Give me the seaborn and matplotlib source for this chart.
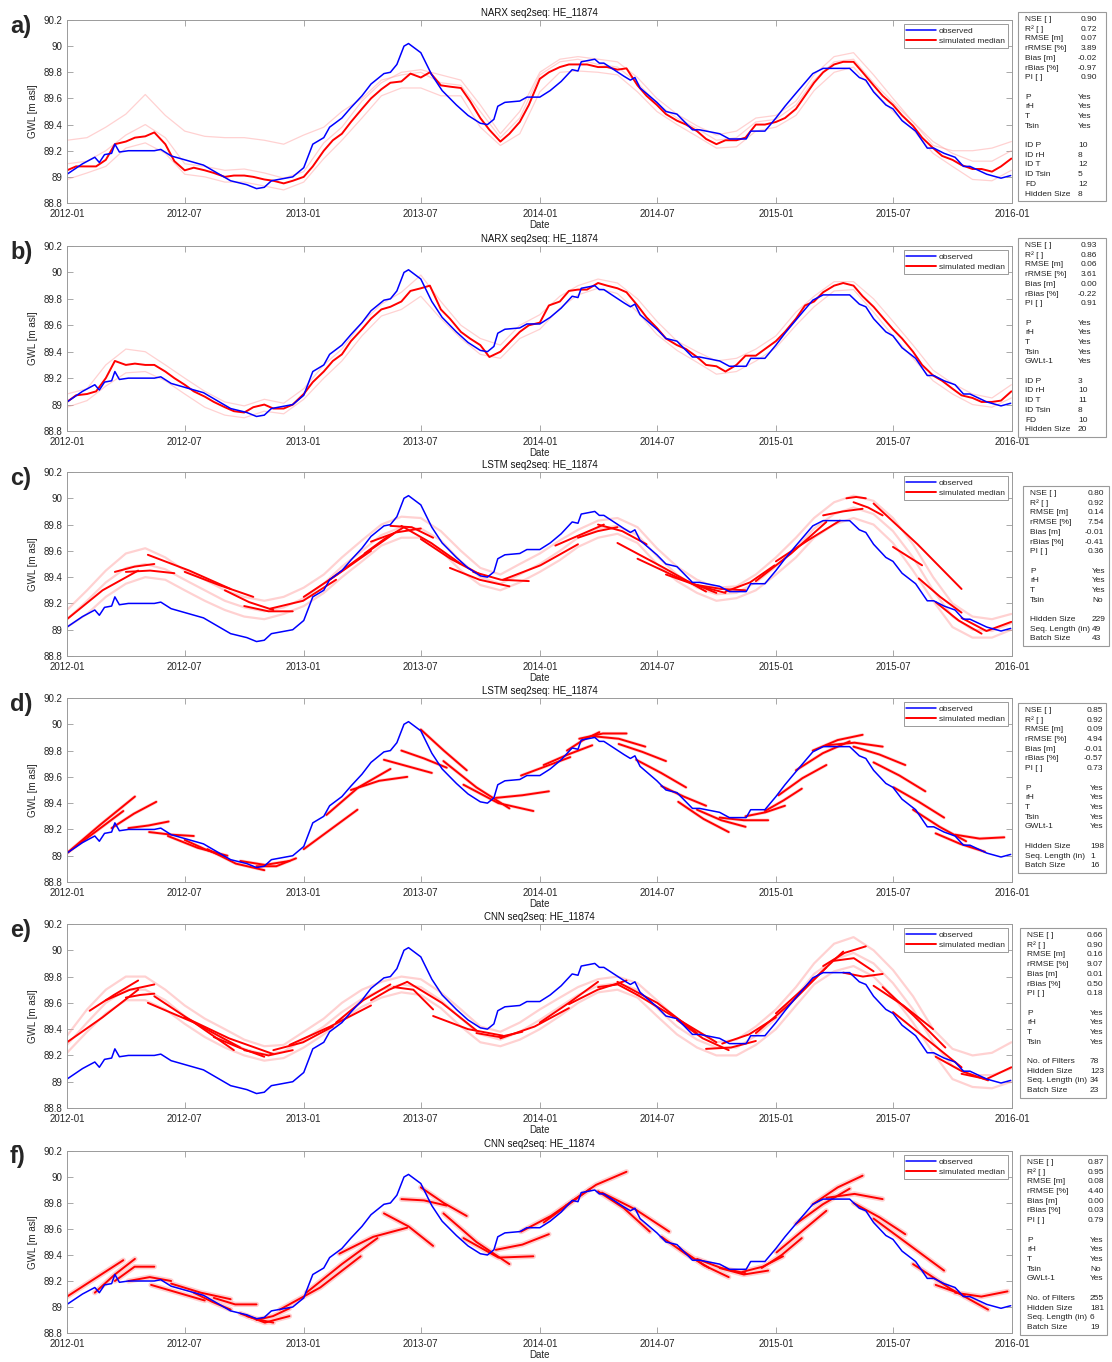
import pandas as pd
import numpy as np
import matplotlib
matplotlib.use("Agg")
import matplotlib.pyplot as plt
import matplotlib.dates as mdates
from matplotlib.lines import Line2D
from matplotlib.patches import Rectangle
import seaborn as sns

sns.set_style("ticks")
plt.rcParams['font.family'] = ['Liberation Sans', 'DejaVu Sans']

W, H = 1112, 1362

# ---------------- observed GWL (same well in every panel) ----------------
obs_dates = ["2012-01-01", "2012-01-25", "2012-02-13", "2012-02-20", "2012-02-28", "2012-03-10",
             "2012-03-15", "2012-03-22", "2012-04-05", "2012-05-15", "2012-05-25", "2012-06-10",
             "2012-07-30", "2012-08-20", "2012-09-10", "2012-10-05", "2012-10-20", "2012-11-01",
             "2012-11-12", "2012-12-15", "2013-01-01", "2013-01-15", "2013-02-01", "2013-02-10",
             "2013-03-01", "2013-03-15", "2013-04-01", "2013-04-15", "2013-05-05", "2013-05-15",
             "2013-05-25", "2013-06-05", "2013-06-12", "2013-07-01", "2013-07-18", "2013-08-03",
             "2013-08-25", "2013-09-12", "2013-10-01", "2013-10-12", "2013-10-22", "2013-10-28",
             "2013-11-08", "2013-12-01", "2013-12-12", "2014-01-01", "2014-01-17", "2014-02-03",
             "2014-02-20", "2014-03-01", "2014-03-06", "2014-03-27", "2014-04-03", "2014-04-10",
             "2014-05-11", "2014-05-21", "2014-05-28", "2014-06-05", "2014-07-01", "2014-07-15",
             "2014-08-01", "2014-08-25", "2014-09-05", "2014-10-06", "2014-10-21", "2014-11-16",
             "2014-11-23", "2014-12-15", "2015-01-01", "2015-01-15", "2015-02-01", "2015-02-27",
             "2015-03-15", "2015-04-25", "2015-05-10", "2015-05-20", "2015-06-01", "2015-06-20",
             "2015-07-01", "2015-07-15", "2015-08-05", "2015-08-23", "2015-09-02", "2015-09-18",
             "2015-10-05", "2015-10-18", "2015-10-28", "2015-11-23", "2015-12-15", "2015-12-30"]
obs_gwl = [89.02, 89.10, 89.15, 89.11, 89.17, 89.18, 89.25, 89.19, 89.20, 89.20, 89.21, 89.16,
           89.09, 89.03, 88.97, 88.94, 88.91, 88.92, 88.97, 89.00, 89.07, 89.25, 89.30, 89.38,
           89.45, 89.53, 89.62, 89.71, 89.79, 89.80, 89.86, 90.00, 90.02, 89.95, 89.78, 89.66,
           89.55, 89.47, 89.41, 89.40, 89.44, 89.54, 89.57, 89.58, 89.61, 89.61, 89.66, 89.73,
           89.82, 89.81, 89.88, 89.90, 89.87, 89.87, 89.77, 89.74, 89.76, 89.68, 89.57, 89.50,
           89.48, 89.36, 89.36, 89.33, 89.29, 89.29, 89.35, 89.35, 89.45, 89.54, 89.64, 89.79,
           89.83, 89.83, 89.76, 89.74, 89.65, 89.55, 89.52, 89.43, 89.35, 89.22, 89.22, 89.18,
           89.15, 89.08, 89.08, 89.02, 88.99, 89.01]

# date grids of the simulated series (1st/15th of month, and 1st of month)
half_month = [f"{y}-{m:02d}-{d:02d}" for y in range(2012, 2016) for m in range(1, 13) for d in (1, 15)] + ["2015-12-31"]
month = [f"{y}-{m:02d}-01" for y in range(2012, 2016) for m in range(1, 13)] + ["2015-12-31"]

# ---------------- NARX (panels a, b): medians on half-month grid ----------------
med_a = [89.05, 89.08, 89.08, 89.08, 89.13, 89.25, 89.27, 89.30, 89.31, 89.34, 89.25, 89.12,
         89.05, 89.07, 89.05, 89.03, 89.00, 89.01, 89.01, 89.00, 88.98, 88.97, 88.95, 88.97,
         89.00, 89.08, 89.20, 89.28, 89.33, 89.42, 89.52, 89.60, 89.67, 89.72, 89.73, 89.79,
         89.76, 89.80, 89.70, 89.69, 89.68, 89.58, 89.45, 89.36, 89.27, 89.33, 89.42, 89.55,
         89.75, 89.80, 89.84, 89.86, 89.86, 89.86, 89.84, 89.84, 89.82, 89.83, 89.70, 89.62,
         89.55, 89.48, 89.43, 89.40, 89.35, 89.29, 89.25, 89.28, 89.28, 89.30, 89.40, 89.40,
         89.42, 89.45, 89.52, 89.62, 89.72, 89.80, 89.86, 89.88, 89.88, 89.80, 89.70, 89.62,
         89.55, 89.47, 89.39, 89.30, 89.22, 89.16, 89.13, 89.09, 89.06, 89.06, 89.04, 89.08, 89.14]
med_b = [89.02, 89.07, 89.08, 89.10, 89.20, 89.33, 89.30, 89.31, 89.30, 89.30, 89.25, 89.20,
         89.15, 89.10, 89.06, 89.02, 88.98, 88.95, 88.94, 88.98, 89.00, 88.97, 88.97, 89.00,
         89.08, 89.17, 89.25, 89.33, 89.38, 89.48, 89.57, 89.65, 89.72, 89.74, 89.78, 89.86,
         89.88, 89.90, 89.72, 89.65, 89.55, 89.50, 89.45, 89.36, 89.40, 89.47, 89.55, 89.60,
         89.62, 89.75, 89.78, 89.86, 89.87, 89.87, 89.92, 89.90, 89.88, 89.85, 89.75, 89.66,
         89.58, 89.50, 89.45, 89.42, 89.36, 89.30, 89.29, 89.25, 89.30, 89.37, 89.37, 89.42,
         89.48, 89.55, 89.65, 89.75, 89.78, 89.85, 89.90, 89.92, 89.90, 89.82, 89.74, 89.66,
         89.57, 89.50, 89.40, 89.30, 89.22, 89.18, 89.12, 89.07, 89.05, 89.02, 89.02, 89.03, 89.10]

# ensemble members (monthly grid)
ens_a = [
    [89.10, 89.12, 89.20, 89.32, 89.40, 89.30, 89.10, 89.08, 89.05, 89.06, 89.03, 88.99,
     89.04, 89.26, 89.38, 89.58, 89.72, 89.80, 89.82, 89.78, 89.74, 89.55, 89.33, 89.50,
     89.80, 89.90, 89.92, 89.90, 89.88, 89.76, 89.60, 89.48, 89.39, 89.32, 89.35, 89.45,
     89.47, 89.58, 89.78, 89.92, 89.95, 89.78, 89.60, 89.42, 89.27, 89.18, 89.12, 89.12, 89.20],
    [88.98, 89.03, 89.08, 89.22, 89.26, 89.18, 89.02, 89.00, 88.96, 88.96, 88.93, 88.90,
     88.96, 89.14, 89.28, 89.45, 89.62, 89.68, 89.68, 89.62, 89.62, 89.38, 89.24, 89.33,
     89.65, 89.80, 89.81, 89.80, 89.78, 89.65, 89.50, 89.40, 89.31, 89.22, 89.23, 89.35,
     89.38, 89.47, 89.66, 89.80, 89.84, 89.66, 89.50, 89.36, 89.18, 89.08, 88.98, 88.97, 89.05],
    [89.28, 89.30, 89.38, 89.48, 89.63, 89.47, 89.35, 89.31, 89.30, 89.30, 89.28, 89.25,
     89.32, 89.38, 89.50, 89.60, 89.74, 89.78, 89.80, 89.72, 89.70, 89.50, 89.30, 89.45,
     89.78, 89.88, 89.90, 89.86, 89.84, 89.72, 89.56, 89.45, 89.37, 89.28, 89.30, 89.42,
     89.44, 89.55, 89.74, 89.88, 89.90, 89.72, 89.57, 89.42, 89.24, 89.20, 89.20, 89.22, 89.27],
]
ens_b = [
    [89.08, 89.12, 89.30, 89.42, 89.40, 89.30, 89.20, 89.10, 89.02, 88.99, 89.04, 89.01,
     89.12, 89.30, 89.42, 89.62, 89.76, 89.85, 89.98, 89.78, 89.60, 89.50, 89.45, 89.60,
     89.68, 89.82, 89.90, 89.95, 89.92, 89.80, 89.63, 89.48, 89.40, 89.33, 89.35, 89.42,
     89.52, 89.70, 89.82, 89.93, 89.93, 89.80, 89.63, 89.45, 89.26, 89.16, 89.08, 89.05, 89.15],
    [88.98, 89.03, 89.14, 89.24, 89.25, 89.18, 89.08, 88.98, 88.92, 88.90, 88.95, 88.93,
     89.04, 89.20, 89.33, 89.52, 89.67, 89.72, 89.82, 89.65, 89.50, 89.38, 89.35, 89.50,
     89.57, 89.73, 89.83, 89.88, 89.84, 89.70, 89.53, 89.41, 89.32, 89.23, 89.25, 89.33,
     89.43, 89.60, 89.74, 89.86, 89.87, 89.70, 89.52, 89.35, 89.18, 89.08, 89.00, 88.98, 89.05],
]
ens_c = [
    [89.15, 89.30, 89.45, 89.58, 89.62, 89.55, 89.45, 89.38, 89.30, 89.25, 89.22, 89.25,
     89.32, 89.42, 89.55, 89.68, 89.80, 89.86, 89.85, 89.75, 89.60, 89.47, 89.42, 89.50,
     89.58, 89.68, 89.76, 89.83, 89.85, 89.78, 89.62, 89.48, 89.38, 89.32, 89.33, 89.42,
     89.55, 89.70, 89.85, 89.97, 90.02, 89.98, 89.85, 89.65, 89.40, 89.20, 89.10, 89.08, 89.12],
    [89.08, 89.22, 89.36, 89.47, 89.50, 89.46, 89.38, 89.30, 89.22, 89.17, 89.14, 89.17,
     89.24, 89.35, 89.48, 89.60, 89.72, 89.78, 89.77, 89.68, 89.52, 89.40, 89.35, 89.42,
     89.50, 89.60, 89.70, 89.77, 89.79, 89.72, 89.56, 89.42, 89.32, 89.27, 89.28, 89.36,
     89.48, 89.62, 89.77, 89.88, 89.93, 89.88, 89.75, 89.55, 89.30, 89.10, 89.00, 88.99, 89.05],
    [89.02, 89.12, 89.25, 89.35, 89.40, 89.38, 89.30, 89.22, 89.15, 89.10, 89.08, 89.12,
     89.18, 89.28, 89.40, 89.52, 89.64, 89.70, 89.70, 89.60, 89.45, 89.34, 89.30, 89.36,
     89.44, 89.53, 89.63, 89.70, 89.73, 89.66, 89.50, 89.37, 89.28, 89.22, 89.24, 89.30,
     89.42, 89.55, 89.70, 89.80, 89.85, 89.80, 89.66, 89.45, 89.22, 89.02, 88.94, 88.94, 89.00],
]
ens_e = [
    [89.35, 89.55, 89.70, 89.80, 89.80, 89.70, 89.58, 89.48, 89.40, 89.32, 89.27, 89.28,
     89.38, 89.48, 89.60, 89.70, 89.76, 89.80, 89.78, 89.68, 89.55, 89.42, 89.38, 89.45,
     89.55, 89.64, 89.72, 89.78, 89.80, 89.75, 89.62, 89.48, 89.38, 89.30, 89.32, 89.42,
     89.55, 89.72, 89.90, 90.05, 90.10, 90.00, 89.85, 89.65, 89.40, 89.25, 89.20, 89.22, 89.30],
    [89.28, 89.45, 89.60, 89.70, 89.70, 89.62, 89.50, 89.40, 89.32, 89.25, 89.21, 89.23,
     89.32, 89.42, 89.53, 89.63, 89.70, 89.74, 89.72, 89.62, 89.48, 89.36, 89.32, 89.38,
     89.47, 89.57, 89.66, 89.73, 89.75, 89.70, 89.56, 89.42, 89.32, 89.26, 89.26, 89.35,
     89.48, 89.65, 89.82, 89.93, 89.98, 89.90, 89.75, 89.55, 89.30, 89.12, 89.05, 89.05, 89.10],
    [89.22, 89.38, 89.52, 89.62, 89.62, 89.55, 89.44, 89.34, 89.26, 89.20, 89.16, 89.18,
     89.26, 89.36, 89.47, 89.57, 89.64, 89.68, 89.66, 89.56, 89.42, 89.30, 89.27, 89.32,
     89.40, 89.50, 89.60, 89.68, 89.70, 89.64, 89.50, 89.36, 89.26, 89.20, 89.20, 89.28,
     89.40, 89.58, 89.74, 89.84, 89.88, 89.80, 89.65, 89.45, 89.22, 89.02, 88.96, 88.95, 89.00],
]

# ---------------- seq2seq forecast pieces: (start, end, v_start, v_mid, v_end) ----------------
segs_c = [
    ("2012-01-01", "2012-04-20", 89.08, 89.30, 89.45), ("2012-03-15", "2012-05-15", 89.44, 89.48, 89.50),
    ("2012-04-01", "2012-06-15", 89.44, 89.45, 89.43), ("2012-05-05", "2012-09-10", 89.57, 89.45, 89.31),
    ("2012-07-01", "2012-10-15", 89.44, 89.34, 89.25), ("2012-09-01", "2012-11-15", 89.30, 89.21, 89.15),
    ("2012-10-01", "2012-12-15", 89.18, 89.14, 89.14), ("2012-11-10", "2013-02-20", 89.16, 89.22, 89.38),
    ("2013-01-01", "2013-04-15", 89.25, 89.42, 89.60), ("2013-02-10", "2013-05-20", 89.38, 89.56, 89.73),
    ("2013-04-05", "2013-06-05", 89.58, 89.69, 89.78), ("2013-04-15", "2013-07-01", 89.67, 89.74, 89.77),
    ("2013-05-15", "2013-07-20", 89.79, 89.78, 89.70), ("2013-06-01", "2013-09-01", 89.79, 89.66, 89.50),
    ("2013-07-01", "2013-10-01", 89.69, 89.54, 89.42), ("2013-08-15", "2013-11-15", 89.47, 89.38, 89.33),
    ("2013-09-20", "2013-12-15", 89.44, 89.38, 89.37), ("2013-11-05", "2014-03-01", 89.38, 89.49, 89.65),
    ("2014-01-25", "2014-04-10", 89.64, 89.72, 89.80), ("2014-03-01", "2014-05-01", 89.70, 89.75, 89.78),
    ("2014-04-01", "2014-06-15", 89.80, 89.75, 89.65), ("2014-05-01", "2014-09-15", 89.66, 89.48, 89.29),
    ("2014-06-01", "2014-10-01", 89.54, 89.40, 89.28), ("2014-07-15", "2014-10-15", 89.42, 89.34, 89.28),
    ("2014-09-01", "2014-11-15", 89.34, 89.31, 89.30), ("2014-10-15", "2014-12-30", 89.29, 89.36, 89.49),
    ("2014-12-01", "2015-03-20", 89.37, 89.58, 89.82), ("2015-01-01", "2015-04-10", 89.52, 89.68, 89.83),
    ("2015-03-15", "2015-05-15", 89.87, 89.90, 89.92), ("2015-04-20", "2015-05-20", 90.00, 90.01, 90.00),
    ("2015-05-01", "2015-06-15", 89.97, 89.93, 89.87), ("2015-06-01", "2015-10-15", 89.96, 89.65, 89.31),
    ("2015-07-01", "2015-08-15", 89.63, 89.56, 89.49), ("2015-08-10", "2015-10-15", 89.39, 89.25, 89.13),
    ("2015-09-05", "2015-11-15", 89.21, 89.07, 88.97), ("2015-10-15", "2015-12-31", 89.09, 88.99, 89.06),
]
segs_d = [
    ("2012-01-01", "2012-03-28", 89.02, 89.18, 89.34), ("2012-01-01", "2012-04-15", 89.02, 89.24, 89.45),
    ("2012-03-10", "2012-05-18", 89.21, 89.32, 89.41), ("2012-04-05", "2012-06-06", 89.21, 89.23, 89.26),
    ("2012-05-07", "2012-07-15", 89.18, 89.16, 89.15), ("2012-06-05", "2012-09-05", 89.15, 89.06, 89.00),
    ("2012-07-01", "2012-09-01", 89.12, 89.05, 88.99), ("2012-08-05", "2012-11-01", 89.05, 88.94, 88.89),
    ("2012-09-25", "2012-12-10", 88.96, 88.93, 88.96), ("2012-10-20", "2012-12-20", 88.92, 88.92, 88.98),
    ("2013-01-01", "2013-03-25", 89.05, 89.20, 89.35), ("2013-02-05", "2013-05-15", 89.31, 89.52, 89.66),
    ("2013-03-15", "2013-06-10", 89.50, 89.57, 89.60), ("2013-05-05", "2013-07-18", 89.73, 89.68, 89.63),
    ("2013-06-01", "2013-08-10", 89.80, 89.74, 89.67), ("2013-07-01", "2013-09-10", 89.96, 89.80, 89.65),
    ("2013-08-05", "2013-11-15", 89.72, 89.52, 89.36), ("2013-09-05", "2013-12-22", 89.54, 89.40, 89.34),
    ("2013-10-25", "2014-01-15", 89.44, 89.46, 89.49), ("2013-12-03", "2014-02-17", 89.61, 89.68, 89.75),
    ("2014-01-07", "2014-03-23", 89.69, 89.77, 89.84), ("2014-02-12", "2014-04-03", 89.80, 89.88, 89.94),
    ("2014-03-03", "2014-05-15", 89.89, 89.93, 89.93), ("2014-03-23", "2014-06-13", 89.91, 89.89, 89.83),
    ("2014-05-03", "2014-07-15", 89.85, 89.79, 89.72), ("2014-05-30", "2014-08-15", 89.73, 89.63, 89.52),
    ("2014-07-08", "2014-09-15", 89.53, 89.45, 89.38), ("2014-08-03", "2014-10-20", 89.41, 89.28, 89.18),
    ("2014-09-01", "2014-11-15", 89.35, 89.27, 89.22), ("2014-10-06", "2014-12-20", 89.29, 89.27, 89.27),
    ("2014-11-15", "2015-01-15", 89.30, 89.33, 89.38), ("2014-12-15", "2015-02-10", 89.34, 89.42, 89.51),
    ("2015-01-05", "2015-03-20", 89.46, 89.59, 89.69), ("2015-02-01", "2015-04-25", 89.65, 89.78, 89.87),
    ("2015-02-27", "2015-05-15", 89.80, 89.88, 89.92), ("2015-03-20", "2015-06-15", 89.84, 89.86, 89.83),
    ("2015-05-01", "2015-07-20", 89.83, 89.77, 89.69), ("2015-06-01", "2015-08-20", 89.71, 89.61, 89.49),
    ("2015-07-02", "2015-09-18", 89.52, 89.41, 89.29), ("2015-08-01", "2015-10-22", 89.35, 89.22, 89.11),
    ("2015-09-05", "2015-11-20", 89.17, 89.09, 89.03), ("2015-10-05", "2015-12-20", 89.16, 89.13, 89.14),
]
segs_e = [
    ("2012-01-01", "2012-04-20", 89.30, 89.49, 89.70), ("2012-02-05", "2012-04-20", 89.54, 89.66, 89.77),
    ("2012-03-01", "2012-05-15", 89.62, 89.70, 89.74), ("2012-04-01", "2012-05-15", 89.64, 89.66, 89.67),
    ("2012-05-05", "2012-09-25", 89.60, 89.45, 89.26), ("2012-05-15", "2012-09-15", 89.65, 89.45, 89.24),
    ("2012-07-01", "2012-11-15", 89.49, 89.33, 89.21), ("2012-08-15", "2012-11-01", 89.34, 89.26, 89.19),
    ("2012-10-01", "2012-12-15", 89.24, 89.20, 89.24), ("2012-11-15", "2013-02-15", 89.24, 89.30, 89.42),
    ("2012-12-10", "2013-04-15", 89.28, 89.42, 89.58), ("2013-02-20", "2013-05-15", 89.45, 89.62, 89.74),
    ("2013-04-15", "2013-06-10", 89.62, 89.70, 89.76), ("2013-05-20", "2013-07-20", 89.72, 89.70, 89.55),
    ("2013-06-10", "2013-09-25", 89.76, 89.60, 89.39), ("2013-07-20", "2013-11-05", 89.50, 89.40, 89.35),
    ("2013-09-25", "2013-12-05", 89.37, 89.34, 89.38), ("2013-11-01", "2014-02-15", 89.33, 89.42, 89.56),
    ("2014-01-01", "2014-04-01", 89.45, 89.60, 89.76), ("2014-02-15", "2014-05-15", 89.59, 89.70, 89.77),
    ("2014-04-01", "2014-06-01", 89.72, 89.74, 89.66), ("2014-05-01", "2014-09-01", 89.76, 89.60, 89.37),
    ("2014-06-01", "2014-10-01", 89.66, 89.48, 89.30), ("2014-08-01", "2014-10-20", 89.47, 89.33, 89.24),
    ("2014-09-15", "2014-12-01", 89.25, 89.26, 89.31), ("2014-10-10", "2015-01-01", 89.29, 89.36, 89.49),
    ("2014-12-01", "2015-03-20", 89.37, 89.60, 89.87), ("2015-01-01", "2015-04-15", 89.52, 89.75, 89.99),
    ("2015-03-15", "2015-05-20", 89.88, 89.98, 90.03), ("2015-04-01", "2015-06-01", 89.92, 89.94, 89.84),
    ("2015-04-15", "2015-06-15", 89.83, 89.80, 89.82), ("2015-06-01", "2015-09-01", 89.73, 89.58, 89.40),
    ("2015-06-15", "2015-09-20", 89.72, 89.50, 89.26), ("2015-07-01", "2015-10-15", 89.53, 89.32, 89.11),
    ("2015-09-05", "2015-11-25", 89.19, 89.08, 89.01), ("2015-10-15", "2015-12-31", 89.06, 89.02, 89.11),
]
segs_f = [
    ("2012-01-01", "2012-03-28", 89.08, 89.22, 89.36), ("2012-02-13", "2012-04-15", 89.11, 89.25, 89.37),
    ("2012-03-15", "2012-05-15", 89.20, 89.31, 89.31), ("2012-04-05", "2012-06-10", 89.20, 89.23, 89.20),
    ("2012-05-10", "2012-08-01", 89.17, 89.11, 89.05), ("2012-06-10", "2012-09-10", 89.18, 89.11, 89.06),
    ("2012-07-15", "2012-09-10", 89.11, 89.04, 88.98), ("2012-08-15", "2012-10-20", 89.07, 89.02, 89.02),
    ("2012-09-25", "2012-12-10", 88.95, 88.88, 88.93), ("2012-10-05", "2012-11-15", 88.93, 88.90, 88.88),
    ("2012-10-20", "2012-12-10", 88.90, 88.93, 88.99), ("2012-11-25", "2013-03-30", 88.98, 89.15, 89.39),
    ("2013-01-05", "2013-04-25", 89.11, 89.33, 89.53), ("2013-02-25", "2013-06-10", 89.41, 89.54, 89.61),
    ("2013-05-05", "2013-07-20", 89.72, 89.62, 89.47), ("2013-06-01", "2013-08-10", 89.83, 89.82, 89.78),
    ("2013-07-01", "2013-09-10", 89.92, 89.80, 89.70), ("2013-08-05", "2013-11-15", 89.72, 89.50, 89.33),
    ("2013-09-05", "2013-12-22", 89.53, 89.38, 89.39), ("2013-10-25", "2014-01-15", 89.44, 89.48, 89.56),
    ("2013-12-03", "2014-03-05", 89.58, 89.70, 89.86), ("2014-01-07", "2014-03-20", 89.65, 89.78, 89.91),
    ("2014-02-10", "2014-05-15", 89.78, 89.94, 90.04), ("2014-04-01", "2014-06-20", 89.89, 89.76, 89.58),
    ("2014-04-07", "2014-07-20", 89.88, 89.75, 89.58), ("2014-07-08", "2014-09-20", 89.54, 89.41, 89.30),
    ("2014-08-05", "2014-10-20", 89.45, 89.32, 89.23), ("2014-09-01", "2014-11-15", 89.37, 89.30, 89.26),
    ("2014-10-06", "2014-12-20", 89.30, 89.25, 89.28), ("2014-11-10", "2015-01-12", 89.27, 89.31, 89.39),
    ("2014-12-10", "2015-02-10", 89.30, 89.40, 89.53), ("2015-01-02", "2015-03-20", 89.42, 89.58, 89.74),
    ("2015-02-01", "2015-04-25", 89.64, 89.79, 89.91), ("2015-02-27", "2015-05-15", 89.79, 89.92, 90.01),
    ("2015-03-20", "2015-06-15", 89.84, 89.87, 89.83), ("2015-05-01", "2015-07-20", 89.80, 89.69, 89.56),
    ("2015-06-01", "2015-09-18", 89.68, 89.48, 89.28), ("2015-08-01", "2015-11-25", 89.33, 89.14, 88.98),
    ("2015-09-05", "2015-10-20", 89.17, 89.13, 89.09), ("2015-10-05", "2015-12-25", 89.11, 89.08, 89.12),
]

# ---------------- side boxes ----------------
metric_names = ["NSE [ ]", "R² [ ]", "RMSE [m]", "rRMSE [%]", "Bias [m]", "rBias [%]", "PI [ ]"]
metrics = {
    'a': ["0.90", "0.72", "0.07", "3.89", "-0.02", "-0.97", "0.90"],
    'b': ["0.93", "0.86", "0.06", "3.61", "0.00", "-0.22", "0.91"],
    'c': ["0.80", "0.92", "0.14", "7.54", "-0.01", "-0.41", "0.36"],
    'd': ["0.85", "0.92", "0.09", "4.94", "-0.01", "-0.57", "0.73"],
    'e': ["0.66", "0.90", "0.16", "9.07", "0.01", "0.50", "0.18"],
    'f': ["0.87", "0.95", "0.08", "4.40", "0.00", "0.03", "0.79"],
}
inputs = {
    'a': [("P", "Yes"), ("rH", "Yes"), ("T", "Yes"), ("Tsin", "Yes")],
    'b': [("P", "Yes"), ("rH", "Yes"), ("T", "Yes"), ("Tsin", "Yes"), ("GWLt-1", "Yes")],
    'c': [("P", "Yes"), ("rH", "Yes"), ("T", "Yes"), ("Tsin", "No")],
    'd': [("P", "Yes"), ("rH", "Yes"), ("T", "Yes"), ("Tsin", "Yes"), ("GWLt-1", "Yes")],
    'e': [("P", "Yes"), ("rH", "Yes"), ("T", "Yes"), ("Tsin", "Yes")],
    'f': [("P", "Yes"), ("rH", "Yes"), ("T", "Yes"), ("Tsin", "No"), ("GWLt-1", "Yes")],
}
hyper = {
    'a': [("ID P", "10"), ("ID rH", "8"), ("ID T", "12"), ("ID Tsin", "5"), ("FD", "12"), ("Hidden Size", "8")],
    'b': [("ID P", "3"), ("ID rH", "10"), ("ID T", "11"), ("ID Tsin", "8"), ("FD", "10"), ("Hidden Size", "20")],
    'c': [("Hidden Size", "229"), ("Seq. Length (in)", "49"), ("Batch Size", "43")],
    'd': [("Hidden Size", "198"), ("Seq. Length (in)", "1"), ("Batch Size", "16")],
    'e': [("No. of Filters", "78"), ("Hidden Size", "123"), ("Seq. Length (in)", "34"), ("Batch Size", "23")],
    'f': [("No. of Filters", "255"), ("Hidden Size", "181"), ("Seq. Length (in)", "6"), ("Batch Size", "19")],
}
titles = {'a': "NARX seq2seq: HE_11874", 'b': "NARX seq2seq: HE_11874", 'c': "LSTM seq2seq: HE_11874",
          'd': "LSTM seq2seq: HE_11874", 'e': "CNN seq2seq: HE_11874", 'f': "CNN seq2seq: HE_11874"}

yticks = [88.8, 89.0, 89.2, 89.4, 89.6, 89.8, 90.0, 90.2]
ytick_labels = ["88.8", "89", "89.2", "89.4", "89.6", "89.8", "90", "90.2"]
xtick_dates = ["2012-01-01", "2012-07-01", "2013-01-01", "2013-07-01", "2014-01-01",
               "2014-07-01", "2015-01-01", "2015-07-01", "2016-01-01"]

# layout in pixels: axes top/bottom, box top/left/right, value columns
layout = {
    'a': dict(top=20, bot=203, btop=12, bl=1018, br=1106, mr=1097, vl=1078),
    'b': dict(top=246, bot=431, btop=238, bl=1018, br=1106, mr=1097, vl=1078),
    'c': dict(top=472, bot=656, btop=486, bl=1023, br=1109, mr=1104, vl=1092),
    'd': dict(top=698, bot=882, btop=703, bl=1018, br=1106, mr=1103, vl=1090),
    'e': dict(top=924, bot=1108, btop=928, bl=1020, br=1106, mr=1103, vl=1090),
    'f': dict(top=1151, bot=1333, btop=1155, bl=1020, br=1107, mr=1104, vl=1090),
}

LIGHT = '#ff9a9a'
GREY = '#9a9a9a'


def seg_frame(segs):
    rows = []
    for i, (t0, t1, v0, vm, v1) in enumerate(segs):
        a, b = pd.Timestamp(t0), pd.Timestamp(t1)
        for t, v in ((a, v0), (a + (b - a) / 2, vm), (b, v1)):
            rows.append({'date': t, 'gwl': v, 'seg': i})
    return pd.DataFrame(rows)


def member_frame(members):
    rows = []
    for i, m in enumerate(members):
        for t, v in zip(month, m):
            rows.append({'date': pd.Timestamp(t), 'gwl': v, 'member': i})
    return pd.DataFrame(rows)


fig = plt.figure(figsize=(W / 100, H / 100), dpi=100)
obs_df = pd.DataFrame({'date': pd.to_datetime(obs_dates), 'gwl': obs_gwl})

ensembles = {'a': ens_a, 'b': ens_b, 'c': ens_c, 'e': ens_e}
medians = {'a': med_a, 'b': med_b}
segments = {'c': segs_c, 'd': segs_d, 'e': segs_e, 'f': segs_f}

for key in "abcdef":
    L = layout[key]
    ax = fig.add_axes([67 / W, 1 - L['bot'] / H, (1012 - 67) / W, (L['bot'] - L['top']) / H])

    if key in ensembles:
        mdf = member_frame(ensembles[key])
        lw_ens = 1.6 if key in ('c', 'e') else 0.9
        sns.lineplot(data=mdf, x='date', y='gwl', units='member', estimator=None,
                     color=LIGHT, lw=lw_ens, alpha=0.45, ax=ax, legend=False)
    if key in segments:
        sdf = seg_frame(segments[key])
        if key in ('d', 'f'):
            sns.lineplot(data=sdf, x='date', y='gwl', units='seg', estimator=None,
                         color='#ffcfcf', lw=3.8 if key == 'f' else 2.4, ax=ax, legend=False)
        sns.lineplot(data=sdf, x='date', y='gwl', units='seg', estimator=None,
                     color='red', lw=1.4, ax=ax, legend=False)
    if key in medians:
        sns.lineplot(x=pd.to_datetime(half_month), y=medians[key], color='red', lw=1.4, ax=ax)

    sns.lineplot(data=obs_df, x='date', y='gwl', color='blue', lw=1.1, ax=ax)

    ax.set_xlim(pd.Timestamp("2012-01-01"), pd.Timestamp("2016-01-01"))
    ax.set_ylim(88.8, 90.2)
    ax.set_yticks(yticks)
    ax.set_yticklabels(ytick_labels)
    ax.set_xticks(pd.to_datetime(xtick_dates))
    ax.xaxis.set_major_formatter(mdates.DateFormatter('%Y-%m'))
    ax.tick_params(direction='in', top=True, right=True, length=4, width=0.6,
                   color=GREY, labelcolor='#262626', labelsize=7)
    ax.tick_params(axis='x', pad=4)
    ax.tick_params(axis='y', pad=3)
    for sp in ax.spines.values():
        sp.set_color(GREY)
        sp.set_linewidth(0.7)
    ax.set_title(titles[key], fontsize=7, pad=3, color='#111111')
    ax.set_xlabel("Date", fontsize=7, labelpad=1, color='#262626')
    ax.set_ylabel("GWL [m asl]", fontsize=7, labelpad=4, color='#262626')

    handles = [Line2D([], [], color='blue', lw=1.1), Line2D([], [], color='red', lw=1.4)]
    leg = ax.legend(handles, ["observed", "simulated median"], loc='upper right', fontsize=6,
                    frameon=True, fancybox=False, edgecolor=GREY, framealpha=1,
                    handlelength=3.6, handletextpad=0.3, borderpad=0.35, labelspacing=0.25,
                    borderaxespad=0.5)
    leg.get_frame().set_linewidth(0.7)

    # panel letter
    fig.text(10 / W, 1 - (L['top'] + 6) / H, f"{key})", fontsize=17, fontweight='bold',
             va='center', ha='left')

    # info box
    rows = [(n, v, 'm') for n, v in zip(metric_names, metrics[key])] + [None]
    rows += [(n, v, 'v') for n, v in inputs[key]] + [None]
    rows += [(n, v, 'v') for n, v in hyper[key]]
    step = 9.7
    btop = L['btop']
    bh = len(rows) * step + 5
    fig.add_artist(Rectangle((L['bl'] / W, 1 - (btop + bh) / H), (L['br'] - L['bl']) / W, bh / H,
                             transform=fig.transFigure, fill=False, edgecolor=GREY, lw=0.8))
    for i, r in enumerate(rows):
        if r is None:
            continue
        y = 1 - (btop + 7.5 + i * step) / H
        fig.text((L['bl'] + 7) / W, y, r[0], fontsize=6, va='center', ha='left', color='#222222')
        if r[2] == 'm':
            fig.text(L['mr'] / W, y, r[1], fontsize=6, va='center', ha='right', color='#222222')
        else:
            fig.text(L['vl'] / W, y, r[1], fontsize=6, va='center', ha='left', color='#222222')

fig.savefig("out.png", dpi=100)
